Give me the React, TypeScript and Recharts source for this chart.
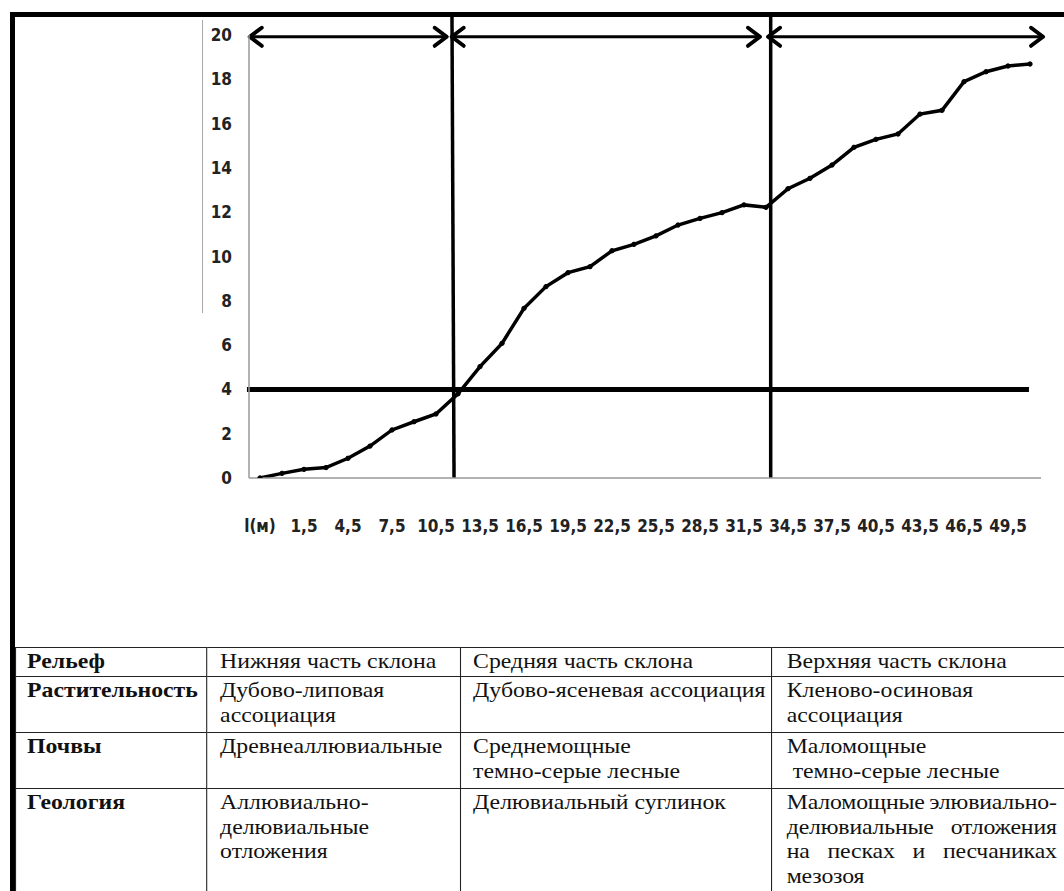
import { LineChart, Line, XAxis, YAxis, ReferenceLine } from 'recharts'

// distance along the profile, m (first slot carries the "l(м)" label)
const distances = [
  -1.5, 0, 1.5, 3, 4.5, 6, 7.5, 9, 10.5, 12, 13.5, 15, 16.5, 18, 19.5, 21, 22.5, 24,
  25.5, 27, 28.5, 30, 31.5, 33, 34.5, 36, 37.5, 39, 40.5, 42, 43.5, 45, 46.5, 48, 49.5, 51,
]

// relative height, m
const heights = [
  0, 0.21, 0.39, 0.47, 0.89, 1.44, 2.17, 2.54, 2.89, 3.8, 5.03, 6.08, 7.66, 8.64, 9.27, 9.54,
  10.26, 10.55, 10.93, 11.42, 11.72, 11.98, 12.33, 12.22, 13.06, 13.53, 14.13, 14.93, 15.29,
  15.53, 16.43, 16.6, 17.89, 18.34, 18.6, 18.69,
]

const xTicks = [-1.5, 1.5, 4.5, 7.5, 10.5, 13.5, 16.5, 19.5, 22.5, 25.5, 28.5, 31.5, 34.5, 37.5, 40.5, 43.5, 46.5, 49.5]
const xTickLabels = ['l(м)', '1,5', '4,5', '7,5', '10,5', '13,5', '16,5', '19,5', '22,5', '25,5', '28,5', '31,5', '34,5', '37,5', '40,5', '43,5', '46,5', '49,5']
const yTicks = [0, 2, 4, 6, 8, 10, 12, 14, 16, 18, 20]

// slope zone boundaries (bottom x, top x) and the arrows above them
const zoneBounds = [
  [11.73, 11.59],
  [33.32, 33.32],
]
const zoneArrows = [
  [-2.2, 11.23],
  [11.57, 32.59],
  [33.14, 51.89],
]
const arrowLevel = 19.92
const thresholdLevel = 4
const thresholdSpan = [-2.39, 50.93]
const frameTop = 20.81

const tableRows = [
  { name: 'Рельеф', cells: [['Нижняя часть склона'], ['Средняя часть склона'], ['Верхняя часть склона']] },
  { name: 'Растительность', cells: [['Дубово-липовая', 'ассоциация'], ['Дубово-ясеневая ассоциация'], ['Кленово-осиновая', 'ассоциация']] },
  { name: 'Почвы', cells: [['Древнеаллювиальные'], ['Среднемощные', 'темно-серые лесные'], ['Маломощные', '\u00a0темно-серые лесные']] },
  {
    name: 'Геология',
    cells: [
      ['Аллювиально-', 'делювиальные', 'отложения'],
      ['Делювиальный суглинок'],
      ['Маломощные элювиально-', 'делювиальные отложения', 'на песках и песчаниках', 'мезозоя'],
    ],
  },
]

const data = distances.map((x, i) => ({ x, h: heights[i] }))

const tickFont = {
  fontFamily: "'Liberation Sans Narrow', 'DejaVu Sans Condensed', sans-serif",
  fontWeight: 700,
  fontSize: 17,
  fill: '#222',
}

function ArrowShape(props: any) {
  const { x1, y1, x2, y2 } = props
  const h = 12
  const w = 9
  return (
    <g stroke="#000" fill="none" strokeLinecap="round" strokeLinejoin="round">
      <line x1={x1} y1={y1} x2={x2} y2={y2} strokeWidth={3} />
      <polyline points={`${x1 + h},${y1 - w} ${x1},${y1} ${x1 + h},${y1 + w}`} strokeWidth={4} />
      <polyline points={`${x2 - h},${y2 - w} ${x2},${y2} ${x2 - h},${y2 + w}`} strokeWidth={4} />
    </g>
  )
}

// the table is laid out unstretched, then widened by tableStretch
const tableStretch = 1.08
const colWidths = [176.9, 235.2, 288, 278]
const colPads = [10.2, 12, 11.1, 13.5]
const rowHeights = [29, 56, 56, 110]

function Cell({ lines, bold, justify, pad }: { lines: string[]; bold?: boolean; justify?: boolean; pad: number }) {
  return (
    <td
      style={{
        border: '1.5px solid #222',
        verticalAlign: 'top',
        padding: `1px 0 0 ${pad}px`,
        fontWeight: bold ? 700 : 400,
        overflow: 'hidden',
      }}
    >
      {lines.map((l, i) => (
        <div
          key={i}
          style={{
            whiteSpace: justify ? 'nowrap' : 'pre',
            textAlign: justify ? 'justify' : 'left',
            textAlignLast: justify && i < lines.length - 1 ? 'justify' : 'left',
            width: justify ? 250 : undefined,
            letterSpacing: justify ? '-0.15px' : undefined,
            wordSpacing: justify && i === 0 ? '-3px' : undefined,
          }}
        >
          {l}
        </div>
      ))}
    </td>
  )
}

export default function App() {
  return (
    <div
      style={{
        position: 'relative',
        width: 1064,
        height: 891,
        background: '#fff',
        overflow: 'hidden',
      }}
    >
      <style>{'body{margin:0}'}</style>
      <LineChart width={1064} height={560} data={data} margin={{ top: 35, right: 23, bottom: 0, left: 0 }}>
        <XAxis
          dataKey="x"
          type="number"
          domain={[-2.25, 51.75]}
          ticks={xTicks}
          interval={0}
          height={82}
          tickFormatter={(v: number) => xTickLabels[xTicks.indexOf(v)] ?? ''}
          tick={tickFont}
          tickLine={false}
          tickSize={0}
          tickMargin={42}
          axisLine={{ stroke: '#999', strokeWidth: 1.5 }}
          allowDataOverflow
        />
        <YAxis
          domain={[0, 20]}
          ticks={yTicks}
          width={249}
          tick={tickFont}
          tickLine={false}
          tickSize={0}
          tickMargin={17}
          axisLine={{ stroke: '#999', strokeWidth: 1.5 }}
          allowDataOverflow
        />
        <ReferenceLine
          segment={[
            { x: thresholdSpan[0], y: thresholdLevel },
            { x: thresholdSpan[1], y: thresholdLevel },
          ]}
          stroke="#000"
          strokeWidth={5}
          ifOverflow="visible"
        />
        {zoneBounds.map(([b, t], i) => (
          <ReferenceLine
            key={`z${i}`}
            segment={[
              { x: b, y: 0 },
              { x: t, y: frameTop },
            ]}
            stroke="#000"
            strokeWidth={3.5}
            ifOverflow="visible"
          />
        ))}
        {zoneArrows.map(([a, b], i) => (
          <ReferenceLine
            key={`a${i}`}
            segment={[
              { x: a, y: arrowLevel },
              { x: b, y: arrowLevel },
            ]}
            shape={(p: any) => <ArrowShape {...p} />}
            ifOverflow="visible"
          />
        ))}
        <Line
          type="linear"
          dataKey="h"
          stroke="#000"
          strokeWidth={3.5}
          dot={{ r: 2.2, fill: '#000', stroke: '#000', strokeWidth: 1 }}
          isAnimationActive={false}
        />
      </LineChart>

      {/* frame */}
      <div style={{ position: 'absolute', left: 10, top: 12, width: 1054, height: 5, background: '#000' }} />
      <div style={{ position: 'absolute', left: 10, top: 12, width: 5, height: 879, background: '#000', zIndex: 2 }} />
      <div style={{ position: 'absolute', left: 202, top: 20, width: 1, height: 293, background: '#aaa' }} />

      <div
        style={{
          position: 'absolute',
          left: 15,
          top: 647,
          transform: `scaleX(${tableStretch})`,
          transformOrigin: '0 0',
        }}
      >
        <table
          style={{
            borderCollapse: 'collapse',
            tableLayout: 'fixed',
            width: colWidths.reduce((s, w) => s + w, 0),
            fontFamily: "'Liberation Serif', 'Times New Roman', serif",
            fontSize: 22,
            lineHeight: '24.5px',
            color: '#111',
          }}
        >
          <colgroup>
            {colWidths.map((w, i) => (
              <col key={i} style={{ width: w }} />
            ))}
          </colgroup>
          <tbody>
            {tableRows.map((r, ri) => (
              <tr key={r.name} style={{ height: rowHeights[ri] }}>
                <Cell lines={[r.name]} bold pad={colPads[0]} />
                {r.cells.map((c, ci) => (
                  <Cell key={ci} lines={c} pad={colPads[ci + 1]} justify={ri === 3 && ci === 2} />
                ))}
              </tr>
            ))}
          </tbody>
        </table>
      </div>
    </div>
  )
}
